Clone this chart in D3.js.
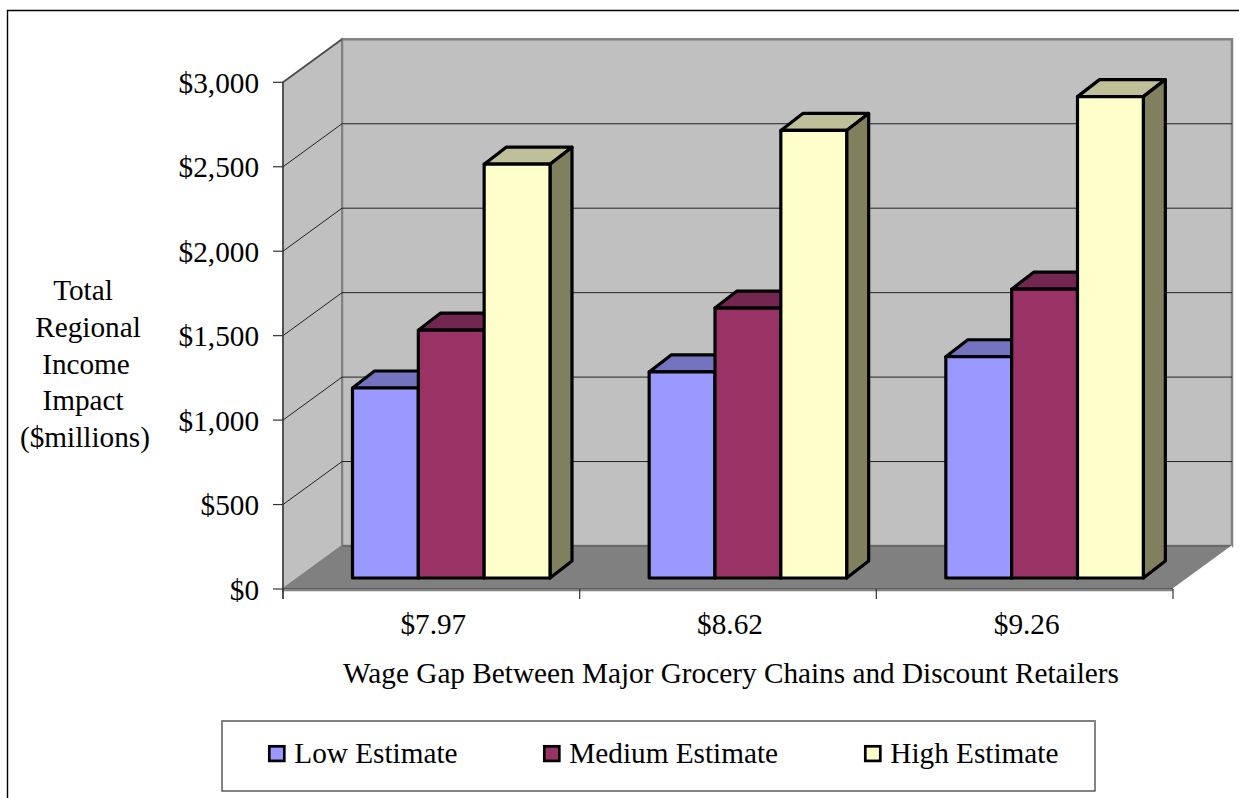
<!DOCTYPE html>
<html>
<head>
<meta charset="utf-8">
<script src="https://cdn.jsdelivr.net/npm/d3@7/dist/d3.min.js"></script>
<style>
html,body{margin:0;padding:0;background:#fff;overflow:hidden}
text{font-family:"Liberation Serif","Times New Roman",serif;fill:#000}
</style>
</head>
<body>
<svg id="chart" width="1239" height="798"></svg>
<script>
const categories = ["$7.97", "$8.62", "$9.26"];
const seriesNames = ["Low Estimate", "Medium Estimate", "High Estimate"];
const lowValues = [1125, 1220, 1310];
const mediumValues = [1467, 1598, 1710];
const highValues = [2450, 2650, 2850];
const tickValues = [0, 500, 1000, 1500, 2000, 2500, 3000];
const yTitleLines = ["Total", "Regional", "Income", "Impact", "($millions)"];
const xTitle = "Wage Gap Between Major Grocery Chains and Discount Retailers";
const faceColors = ["#9999ff", "#993366", "#ffffcc"];
const topColors = ["#7373bf", "#732650", "#bfbf99"];
const sideColors = ["#5c5c99", "#5c1f3d", "#80805f"];

const svg = d3.select("#chart");
const fontSize = 29.25;

// Front plane of the plot box, and how far the box recedes into the page.
const x = d3.scaleBand().domain(categories).range([283, 1173]);
const y = d3.scaleLinear().domain([0, 3000]).range([589, 82.3]);
const depth = {dx: 59, dy: -43};
const barLift = {dx: 0, dy: -11};   // bars stand a little behind the front edge
const barDepth = {dx: 22, dy: -17};
const seriesBand = d3.scaleBand().domain(d3.range(3)).range([69.5, 267]);

const poly = pts => pts.map(p => p.join(",")).join(" ");
const [x0, x1] = x.range();
const yB = y(0), yT = y(3000);
const d = depth;

// Chart frame, clipped by the page on the right and bottom.
svg.append("path").attr("d", "M7.5,798V10.5H1239").attr("fill", "none").attr("stroke", "#000").attr("stroke-width", 1.4);

// Back wall, side wall, floor.
svg.append("rect").attr("x", x0 + d.dx).attr("y", yT + d.dy).attr("width", x1 - x0).attr("height", yB - yT)
  .attr("fill", "#c0c0c0").attr("stroke", "#808080").attr("stroke-width", 2.5);
svg.append("polygon").attr("points", poly([[x0, yT], [x0 + d.dx, yT + d.dy], [x0 + d.dx, yB + d.dy], [x0, yB]]))
  .attr("fill", "#c0c0c0").attr("stroke", "#808080").attr("stroke-width", 2);
svg.append("polygon").attr("points", poly([[x0, yB], [x0 + d.dx, yB + d.dy], [x1 + d.dx, yB + d.dy], [x1, yB]]))
  .attr("fill", "#808080").attr("stroke", "none");
svg.append("line").attr("x1", x0 + d.dx).attr("x2", x1 + d.dx).attr("y1", yB + d.dy).attr("y2", yB + d.dy).attr("stroke", "#555").attr("stroke-width", 1);
svg.append("line").attr("x1", x1).attr("y1", yB).attr("x2", x1 + d.dx).attr("y2", yB + d.dy).attr("stroke", "#fff").attr("stroke-width", 1.5);
svg.append("line").attr("x1", x0).attr("x2", x1).attr("y1", yB + 1.5).attr("y2", yB + 1.5).attr("stroke", "#808080").attr("stroke-width", 1.5);

// Gridlines across the side wall and the back wall.
const grid = svg.append("g").attr("fill", "none").attr("stroke", "#222").attr("stroke-width", 1);
tickValues.slice(1, -1).forEach(v => {
  grid.append("path").attr("d", `M${x0},${y(v)}L${x0 + d.dx},${y(v) + d.dy}H${x1 + d.dx}`);
});

// Front axes.
const axisG = svg.append("g").attr("stroke", "#333").attr("stroke-width", 1.2);
axisG.append("line").attr("x1", x0).attr("x2", x0).attr("y1", yT).attr("y2", yB + 10);
axisG.append("line").attr("x1", x0).attr("x2", x1).attr("y1", yB).attr("y2", yB);
tickValues.forEach(v => axisG.append("line").attr("x1", x0 - 10).attr("x2", x0).attr("y1", y(v)).attr("y2", y(v)));
[...categories.map(c => x(c)), x1].forEach(px => axisG.append("line").attr("x1", px).attr("x2", px).attr("y1", yB).attr("y2", yB + 10));
svg.append("line").attr("x1", x0).attr("y1", yT).attr("x2", x0 + d.dx).attr("y2", yT + d.dy).attr("stroke", "#444").attr("stroke-width", 1.4);

// Value labels and category labels.
const fmt = v => "$" + d3.format(",")(v);
svg.append("g").selectAll("text").data(tickValues).join("text")
  .attr("x", 259).attr("y", v => y(v) + 10.5).attr("text-anchor", "end").attr("font-size", fontSize).text(fmt);
svg.append("g").selectAll("text").data(categories).join("text")
  .attr("x", c => x(c) + x.bandwidth() / 2 + 2).attr("y", 634).attr("text-anchor", "middle").attr("font-size", fontSize).text(c => c);

// Axis titles; the wrapped lines sit slightly off a common centre.
svg.append("text").attr("x", 731).attr("y", 683).attr("text-anchor", "middle").attr("font-size", fontSize).text(xTitle);
const titleNudge = [-2, 3, 1, -2, 0];
svg.append("g").selectAll("text").data(yTitleLines).join("text")
  .attr("x", (t, i) => 85 + titleNudge[i]).attr("y", (t, i) => 300 + i * 36.8).attr("text-anchor", "middle").attr("font-size", fontSize).text(t => t);

// Extruded bars, drawn group by group and left to right.
const allSeries = [lowValues, mediumValues, highValues];
const bars = svg.append("g").attr("stroke", "#000").attr("stroke-width", 3.2).attr("stroke-linejoin", "round");
categories.forEach((c, ci) => {
  allSeries.forEach((vals, si) => {
    const L = x(c) + seriesBand(si);
    const R = L + seriesBand.bandwidth();
    const B = y(0) + barLift.dy;
    const T = y(vals[ci]) + barLift.dy;
    const b = barDepth;
    bars.append("polygon").attr("points", poly([[L, T], [L + b.dx, T + b.dy], [R + b.dx, T + b.dy], [R, T]])).attr("fill", topColors[si]);
    bars.append("polygon").attr("points", poly([[R, T], [R + b.dx, T + b.dy], [R + b.dx, B + b.dy], [R, B]])).attr("fill", sideColors[si]);
    bars.append("rect").attr("x", L).attr("y", T).attr("width", R - L).attr("height", B - T).attr("fill", faceColors[si]);
  });
});

// Legend: dark box with a heavier grey top edge.
const legend = svg.append("g");
legend.append("rect").attr("x", 222).attr("y", 721).attr("width", 873).attr("height", 70)
  .attr("fill", "#fff").attr("stroke", "#333").attr("stroke-width", 1.2);
legend.append("line").attr("x1", 221.5).attr("x2", 1095.5).attr("y1", 721).attr("y2", 721).attr("stroke", "#808080").attr("stroke-width", 2);
const legendX = [269.3, 544.3, 865.3];
seriesNames.forEach((name, i) => {
  legend.append("rect").attr("x", legendX[i]).attr("y", 746.3).attr("width", 15).attr("height", 14.6)
    .attr("fill", faceColors[i]).attr("stroke", "#000").attr("stroke-width", 2.7);
  legend.append("text").attr("x", legendX[i] + 25).attr("y", 763).attr("font-size", fontSize).text(name);
});
</script>
</body>
</html>
